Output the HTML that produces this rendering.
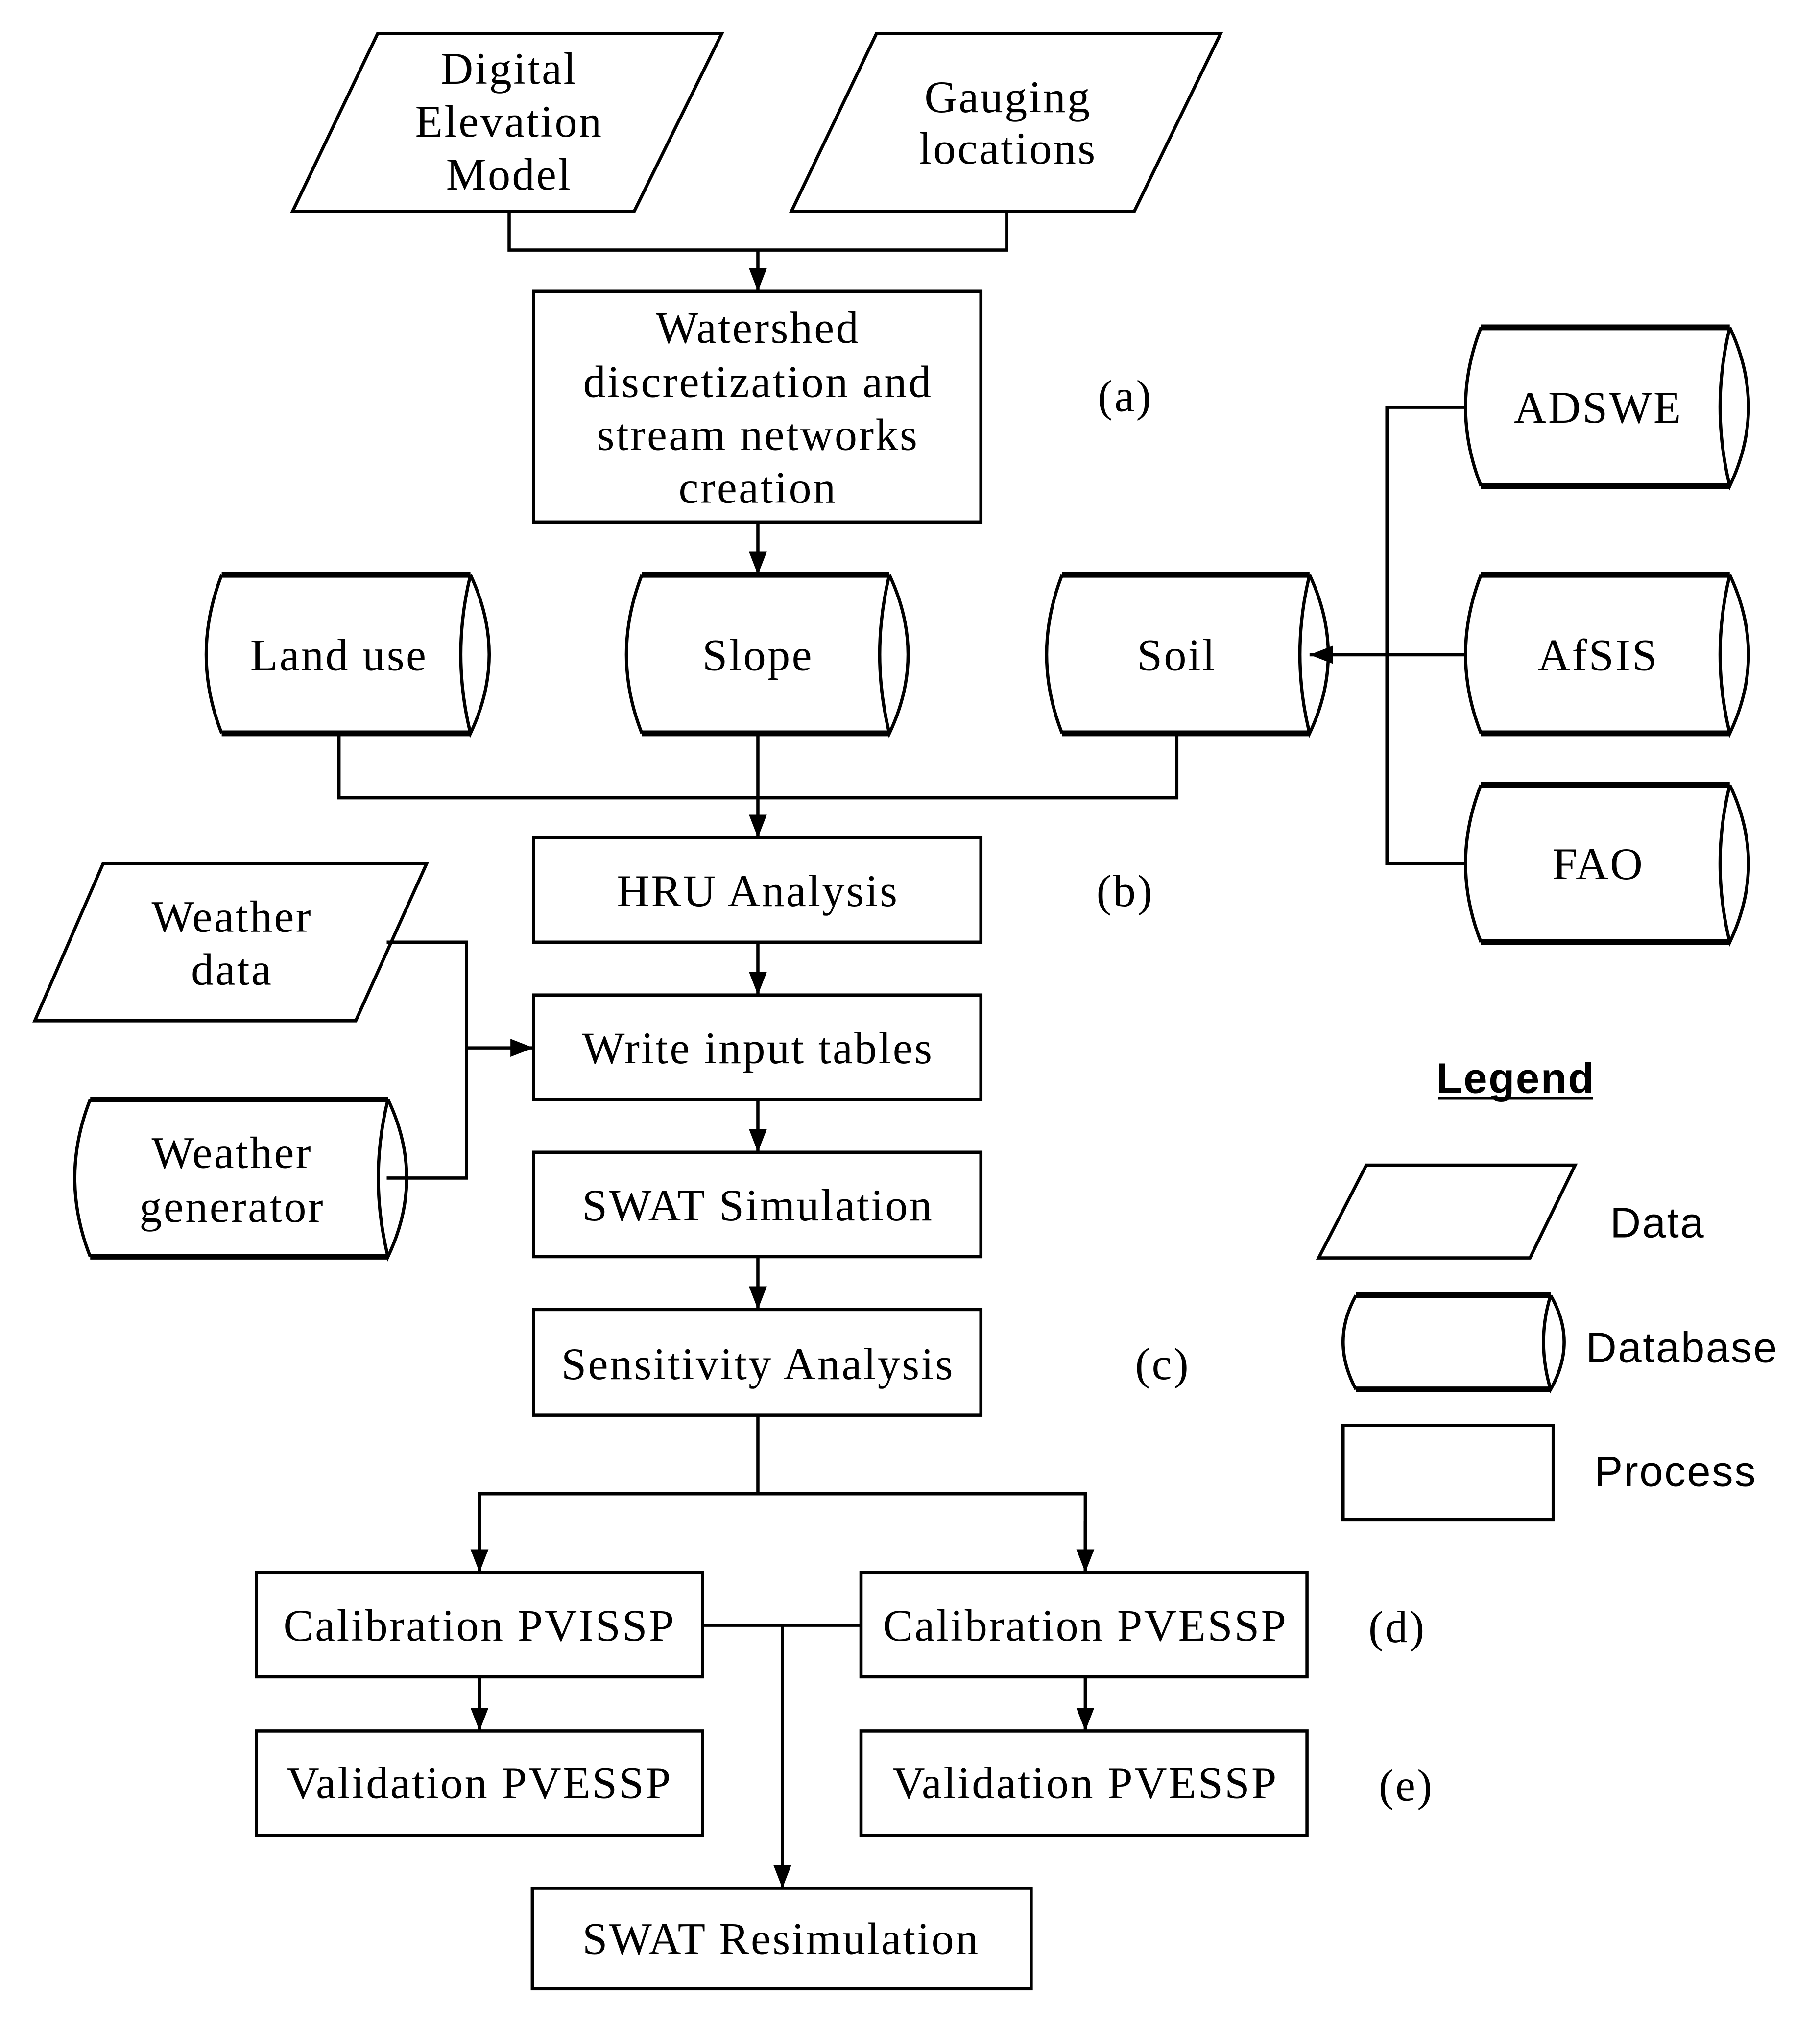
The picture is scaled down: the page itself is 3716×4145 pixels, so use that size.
<!DOCTYPE html>
<html><head><meta charset="utf-8"><style>html,body{margin:0;padding:0;background:#fff}svg{display:block}</style></head>
<body>
<svg width="3716" height="4145" viewBox="0 0 1412 1575" xmlns="http://www.w3.org/2000/svg">
<defs>
<marker id="a" viewBox="0 0 10 10" refX="10" refY="5" markerWidth="18" markerHeight="14" markerUnits="userSpaceOnUse" orient="auto" preserveAspectRatio="none">
<path d="M0,0 L10,5 L0,10 z" fill="#000"/></marker>
</defs>
<g fill="none" stroke="#000" stroke-width="2.5">
<polygon points="293,26 560,26 492,164 227,164"/>
<polygon points="680,26 947,26 880,164 614,164"/>
<polygon points="80,670 331,670 276,792 27,792"/>
<polygon points="1060,904 1222,904 1187,976 1023,976"/>
<rect x="414" y="226" width="347" height="179"/>
<rect x="414" y="650" width="347" height="81"/>
<rect x="414" y="772" width="347" height="81"/>
<rect x="414" y="894" width="347" height="81"/>
<rect x="414" y="1016" width="347" height="82"/>
<rect x="199" y="1220" width="346" height="81"/>
<rect x="668" y="1220" width="346" height="81"/>
<rect x="199" y="1343" width="346" height="81"/>
<rect x="668" y="1343" width="346" height="81"/>
<rect x="413" y="1465" width="387" height="78"/>
<rect x="1042" y="1106" width="163" height="73"/>
<polyline points="395,164 395,194 781,194 781,164"/>
<line x1="588" y1="194" x2="588" y2="226" marker-end="url(#a)"/>
<line x1="588" y1="405" x2="588" y2="446" marker-end="url(#a)"/>
<polyline points="1137,316 1076,316 1076,670 1137,670"/>
<line x1="1137" y1="508" x2="1016" y2="508" marker-end="url(#a)"/>
<polyline points="263,569 263,619 913,619 913,569"/>
<line x1="588" y1="569" x2="588" y2="650" marker-end="url(#a)"/>
<line x1="588" y1="731" x2="588" y2="772" marker-end="url(#a)"/>
<line x1="588" y1="853" x2="588" y2="894" marker-end="url(#a)"/>
<line x1="588" y1="975" x2="588" y2="1016" marker-end="url(#a)"/>
<polyline points="300,731 362,731 362,914 300,914"/>
<line x1="362" y1="813" x2="414" y2="813" marker-end="url(#a)"/>
<polyline points="588,1098 588,1159"/>
<polyline points="372,1220 372,1159 842,1159 842,1220"/>
<line x1="372" y1="1180" x2="372" y2="1220" marker-end="url(#a)"/>
<line x1="842" y1="1180" x2="842" y2="1220" marker-end="url(#a)"/>
<line x1="545" y1="1261" x2="668" y2="1261"/>
<line x1="607" y1="1261" x2="607" y2="1465" marker-end="url(#a)"/>
<line x1="372" y1="1301" x2="372" y2="1343" marker-end="url(#a)"/>
<line x1="842" y1="1301" x2="842" y2="1343" marker-end="url(#a)"/>
</g>
<g fill="none" stroke="#000" stroke-width="2.5">
<path d="M172,446 Q148,508 172,569 M365,446 Q350,508 365,569 Q394,508 365,446" />
<path d="M172,446 H365 M172,569 H365" stroke-width="4.5"/>
<path d="M498,446 Q474,508 498,569 M690,446 Q675,508 690,569 Q719,508 690,446"/>
<path d="M498,446 H690 M498,569 H690" stroke-width="4.5"/>
<path d="M824,446 Q800,508 824,569 M1016,446 Q1001,508 1016,569 Q1045,508 1016,446"/>
<path d="M824,446 H1016 M824,569 H1016" stroke-width="4.5"/>
<path d="M1149,254 Q1125,316 1149,377 M1342,254 Q1327,316 1342,377 Q1371,316 1342,254"/>
<path d="M1149,254 H1342 M1149,377 H1342" stroke-width="4.5"/>
<path d="M1149,446 Q1125,508 1149,569 M1342,446 Q1327,508 1342,569 Q1371,508 1342,446"/>
<path d="M1149,446 H1342 M1149,569 H1342" stroke-width="4.5"/>
<path d="M1149,609 Q1125,670 1149,731 M1342,609 Q1327,670 1342,731 Q1371,670 1342,609"/>
<path d="M1149,609 H1342 M1149,731 H1342" stroke-width="4.5"/>
<path d="M70,853 Q46,914 70,975 M301,853 Q286,914 301,975 Q330,914 301,853"/>
<path d="M70,853 H301 M70,975 H301" stroke-width="4.5"/>
<path d="M1052,1005 Q1032,1041 1052,1078 M1203,1005 Q1192,1041 1203,1078 Q1224,1041 1203,1005"/>
<path d="M1052,1005 H1203 M1052,1078 H1203" stroke-width="4.5"/>
</g>
<g font-family="'Liberation Serif', serif" font-size="35" letter-spacing="1.3" text-anchor="middle" fill="#000">
<text x="395" y="65">Digital</text>
<text x="395" y="106">Elevation</text>
<text x="395" y="147">Model</text>
<text x="782" y="87">Gauging</text>
<text x="782" y="127">locations</text>
<text x="588" y="266">Watershed</text>
<text x="588" y="308">discretization and</text>
<text x="588" y="349">stream networks</text>
<text x="588" y="390">creation</text>
<text x="873" y="319">(a)</text>
<text x="263" y="520">Land use</text>
<text x="588" y="520">Slope</text>
<text x="913" y="520">Soil</text>
<text x="1240" y="328">ADSWE</text>
<text x="1240" y="520">AfSIS</text>
<text x="1240" y="682">FAO</text>
<text x="588" y="703">HRU Analysis</text>
<text x="873" y="703">(b)</text>
<text x="180" y="723">Weather</text>
<text x="180" y="764">data</text>
<text x="588" y="825">Write input tables</text>
<text x="180" y="906">Weather</text>
<text x="180" y="948">generator</text>
<text x="588" y="947">SWAT Simulation</text>
<text x="588" y="1070">Sensitivity Analysis</text>
<text x="902" y="1070">(c)</text>
<text x="372" y="1273">Calibration PVISSP</text>
<text x="842" y="1273">Calibration PVESSP</text>
<text x="1084" y="1274">(d)</text>
<text x="372" y="1395">Validation PVESSP</text>
<text x="842" y="1395">Validation PVESSP</text>
<text x="1091" y="1397">(e)</text>
<text x="606" y="1516">SWAT Resimulation</text>
</g>
<g font-family="'Liberation Sans', sans-serif" font-size="33" letter-spacing="1" text-anchor="middle" fill="#000">
<text x="1176" y="848" font-weight="bold">Legend</text>
<text x="1286" y="960">Data</text>
<text x="1305" y="1057">Database</text>
<text x="1300" y="1153">Process</text>
</g>
<line x1="1116" y1="852" x2="1236" y2="852" stroke="#000" stroke-width="2.5"/>
</svg>
</body></html>
